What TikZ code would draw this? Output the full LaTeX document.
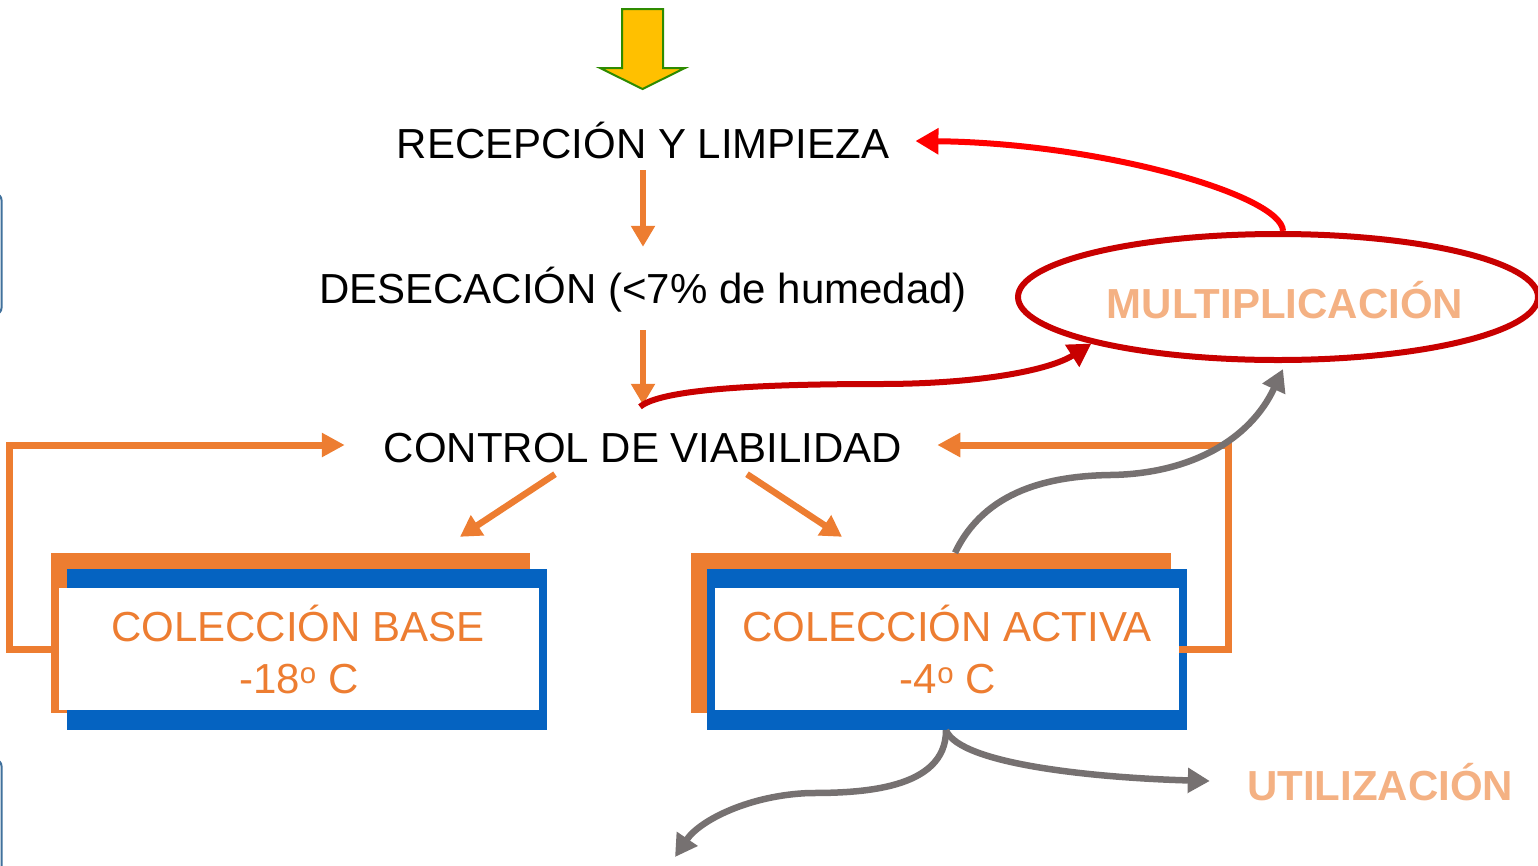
\documentclass[tikz,border=0pt]{standalone}
\usepackage{fontspec}
\setmainfont{Liberation Sans}
\usetikzlibrary{arrows.meta,shapes.geometric,calc}
\definecolor{cOrange}{HTML}{ED7D31}
\definecolor{cBlue}{HTML}{0563C1}
\definecolor{cDarkRed}{HTML}{C80000}
\definecolor{cRed}{HTML}{FF0000}
\definecolor{cGray}{HTML}{767171}
\definecolor{cLight}{HTML}{F4B183}
\definecolor{cYellow}{HTML}{FFC000}
\definecolor{cGreen}{HTML}{2E8B00}
\definecolor{cEdge}{HTML}{41719C}
\begin{document}
\begin{tikzpicture}[x=1pt,y=-1pt,
  txt/.style={inner sep=0pt, anchor=base, text height=30pt, text depth=0pt, font=\fontsize{42}{50}\selectfont},
  btxt/.style={txt, text=cOrange},
  ltxt/.style={txt, text=cLight, font=\fontsize{42}{50}\selectfont\bfseries},
  oarrow/.style={draw=cOrange, line width=6.5pt, -{Triangle[width=23pt,length=21pt]}},
  oloop/.style={draw=cOrange, line width=7pt, -{Triangle[width=23pt,length=23pt]}},
  rarrow/.style={line width=6pt, -{Triangle[width=25pt,length=23pt]}},
  garrow/.style={draw=cGray, line width=6.5pt, -{Triangle[width=24pt,length=22pt]}},
  wbox/.style={fill=white, inner sep=0pt, minimum height=122pt},
  edgebox/.style={draw=cEdge, line width=2pt, rounded corners=6pt},
]
\useasboundingbox (0,0) rectangle (1538,865);

% partial boxes at the left edge
\draw[edgebox] (-40,194) rectangle (1.5,314);
\draw[edgebox] (-40,760) rectangle (1.5,900);

% top input arrow
\draw[fill=cYellow, draw=cGreen, line width=2pt, line join=miter]
  (622,9) -- (663,9) -- (663,68) -- (685,68) -- (642.5,89) -- (600,68) -- (622,68) -- cycle;

% texts
\node[txt] (rec) at (643,158) {RECEPCIÓN Y LIMPIEZA};
\node[txt] (des) at (643,303) {DESECACIÓN (<7\% de humedad)};
\node[txt] (ctrl) at (643,462) {CONTROL DE VIABILIDAD};

% collection boxes
\fill[cOrange] (51,553) rectangle (530,713);
\fill[cBlue] (67,569) rectangle (547,730);
\node[wbox, minimum width=480pt] (base) at (299,649) {};
\node[btxt] (baseA) at (298,641) {COLECCIÓN BASE};
\node[btxt] (baseB) at (299,693) {-18\textsuperscript{o} C};

\fill[cOrange] (691,553) rectangle (1171,713);
\fill[cBlue] (707,569) rectangle (1187,730);
\node[wbox, minimum width=464pt] (act) at (947,649) {};
\node[btxt] (actA) at (947,641) {COLECCIÓN ACTIVA};
\node[btxt] (actB) at (948,693) {-4\textsuperscript{o} C};

% multiplication ellipse
\node[ellipse, draw=cDarkRed, line width=6pt, minimum width=520pt, minimum height=126pt, inner sep=0pt] (mult) at (1278,297) {};
\node[ltxt] (multT) at (1285,318) {MULTIPLICACIÓN};

% utilization
\node[ltxt] (util) at (1380,800) {UTILIZACIÓN};
\coordinate (out) at (675,857);

% main flow
\draw[oarrow, shorten <=12pt, shorten >=26pt] (rec.south) -- (des.north);
\draw[oarrow, shorten <=27pt, shorten >=27pt] (des.south) -- (ctrl.north);
\draw[oarrow] ($(ctrl.south)+(-88,12)$) -- ($(base.north)+(161,-51)$);
\draw[oarrow] ($(ctrl.south)+(104,12)$) -- ($(act.north)+(-105,-51)$);

% feedback loops
\draw[oloop, shorten >=39pt] (base.west) -- ++(-49,0) |- ($(ctrl.west)+(0,-2)$);
\draw[oloop, shorten >=35pt] (act.east) -- ++(49,0) |- ($(ctrl.east)+(0,-2)$);

% red arrows
\draw[rarrow, draw=cDarkRed] ($(ctrl.north)+(-3,-25)$)
  .. controls (660,390) and (750,384) .. (880,384)
  .. controls (980,384) and (1050,370) .. (mult.194);
\draw[rarrow, draw=cRed] ($(mult.north)+(5,0)$)
  .. controls (1282,195) and (1100,143) .. ($(rec.east)+(26,-2)$);

% gray arrows
\draw[garrow] ($(act.north)+(8,-35)$)
  .. controls (985,490) and (1050,476) .. (1110,475)
  .. controls (1190,474) and (1250,440) .. ($(mult.south)+(5,6)$);
\draw[garrow] ($(act.south)+(-1,20)$)
  .. controls (946,790) and (860,793) .. (810,793)
  .. controls (750,795) and (700,820) .. (out);
\draw[garrow] ($(act.south)+(-1,20)$)
  .. controls (960,765) and (1100,778) .. ($(util.west)+(-37,-4)$);
\end{tikzpicture}
\end{document}
